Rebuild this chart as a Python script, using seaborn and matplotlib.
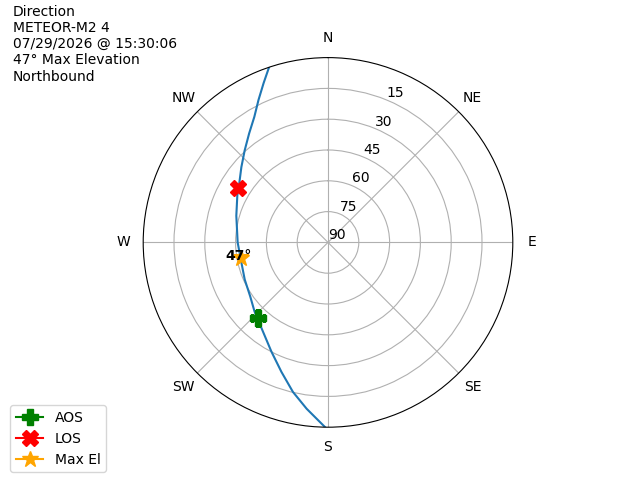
import numpy as np
import matplotlib
matplotlib.use("Agg")
import matplotlib.pyplot as plt
import seaborn as sns

# pass track, S -> N (azimuth deg clockwise from N, elevation deg)
track_az = [180.9, 187.3, 193.2, 199.8, 207.4, 216.2, 226.8, 235.3, 246.0, 256.9,
            270.0, 286.2, 297.3, 303.4, 311.0, 317.9, 324.1, 329.6, 334.0, 338.0, 341.4]
track_el = [0, 8.3, 15.2, 23.0, 30.1, 36.3, 40.9, 43.9, 45.6, 46.7,
            46.0, 43.5, 40.3, 38.2, 34.1, 29.5, 24.5, 19.1, 12.8, 6.3, 0]

aos_az, aos_el = 222.8, 39.7
los_az, los_el = 301.1, 38.6
max_az, max_el = 260.0, 47

compass = ['N', 'NE', 'E', 'SE', 'S', 'SW', 'W', 'NW']
el_ticks = [0, 15, 30, 45, 60, 75]
el_labels = ['90', '75', '60', '45', '30', '15']

info = "Direction\nMETEOR-M2 4\n07/29/2026 @ 15:30:06\n47\u00b0 Max Elevation\nNorthbound"

fig = plt.figure(figsize=(6.4, 4.8), dpi=100)
ax = fig.add_subplot(111, projection='polar')
ax.set_theta_zero_location('N')
ax.set_theta_direction(-1)

sns.lineplot(x=np.radians(track_az), y=90 - np.array(track_el), ax=ax,
             sort=False, color='C0', linewidth=1.5)

ax.plot(np.radians(aos_az), 90 - aos_el, marker='P', color='green',
        markersize=12, label='AOS', zorder=4)
ax.plot(np.radians(los_az), 90 - los_el, marker='X', color='red',
        markersize=12, label='LOS', zorder=4)
ax.plot(np.radians(max_az), 90 - max_el, marker='*', color='orange',
        markersize=12, label='Max El', zorder=4)
ax.annotate("{0}\u00b0".format(max_el), (np.radians(max_az), 90 - max_el),
            xytext=(-2, 1), textcoords='offset points', ha='center', va='center',
            fontweight='bold', fontsize=10, zorder=5)

ax.set_thetagrids(range(0, 360, 45), compass)
ax.set_ylim(0, 90)
ax.set_yticks(el_ticks)
ax.set_yticklabels(el_labels)
ax.set_xlabel('')
ax.set_ylabel('')

fig.text(0.02, 0.99, info, ha='left', va='top', fontsize=10)
fig.legend(loc='lower left', bbox_to_anchor=(0.005, 0.002))

fig.savefig('out.png', dpi=100)
